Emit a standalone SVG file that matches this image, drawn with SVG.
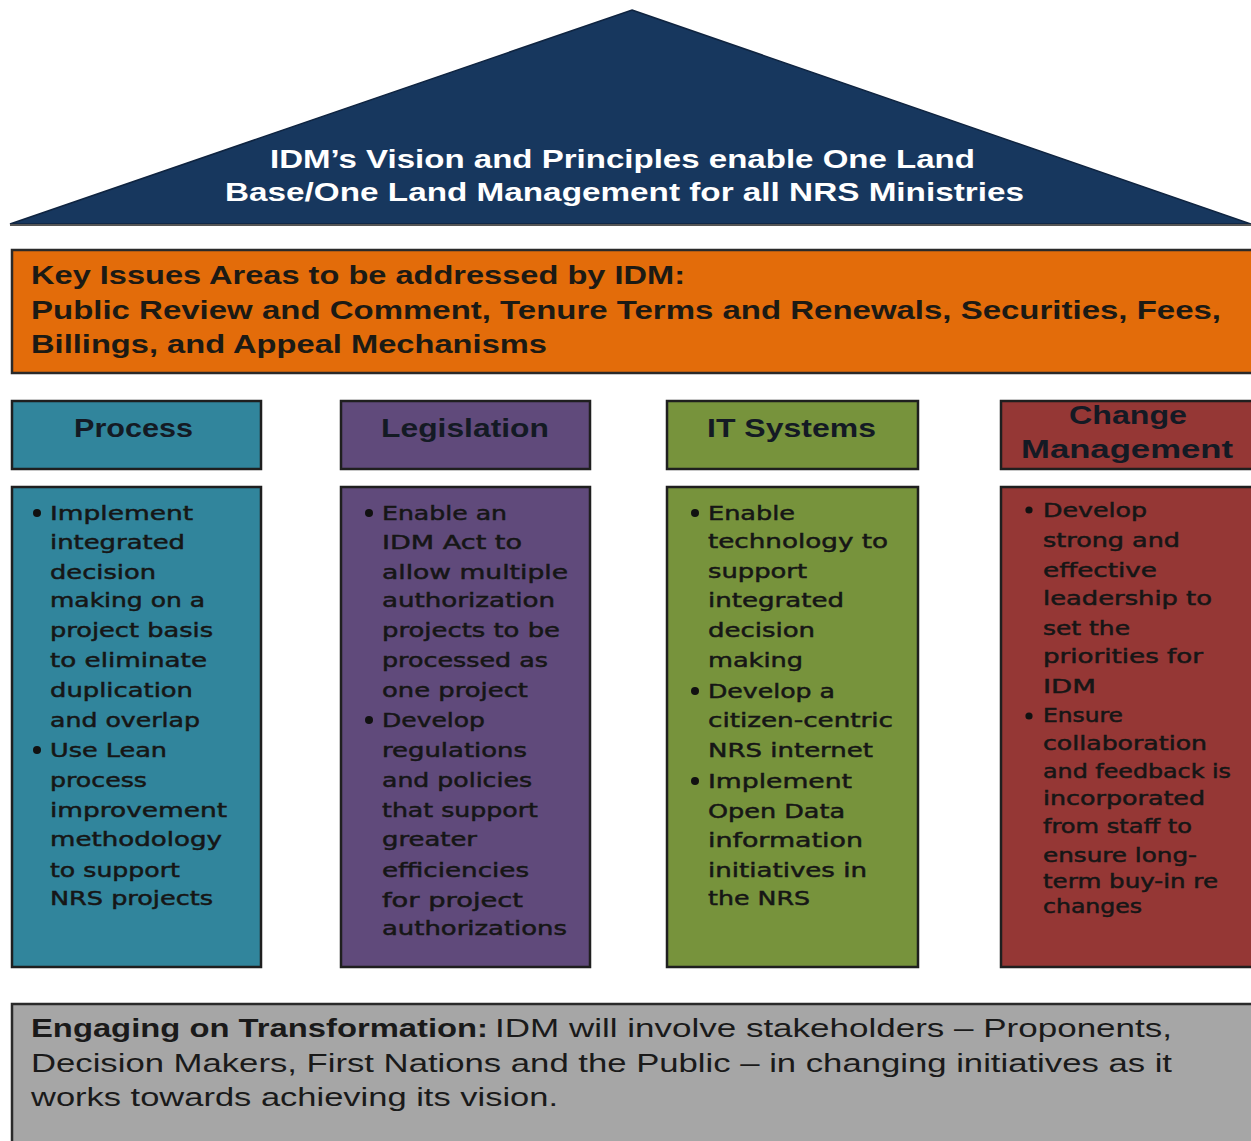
<svg xmlns="http://www.w3.org/2000/svg" width="1251" height="1141" viewBox="0 0 1251 1141">
<style>
.roof{fill:#17375E;stroke:#0f2440;stroke-width:1.5}
.bar{stroke:#2a2a2a;stroke-width:2.5}
.box{stroke:#1f1f1f;stroke-width:2.5}
.t1{font-family:"Liberation Sans",Arial,sans-serif;font-weight:bold;font-size:26px;fill:#ffffff}
.t2{font-family:"Liberation Sans",Arial,sans-serif;font-weight:bold;font-size:26px;fill:#1c1a14}
.hd{font-family:"Liberation Sans",Arial,sans-serif;font-weight:bold;font-size:26px;fill:#141a24}
.bd{font-family:"DejaVu Sans",Verdana,sans-serif;font-size:20px;fill:#161616;stroke:#161616;stroke-width:0.5}
.bd2{font-family:"DejaVu Sans",Verdana,sans-serif;font-size:19px;fill:#161616;stroke:#161616;stroke-width:0.5}
.gb{font-family:"Liberation Sans",Arial,sans-serif;font-weight:bold;font-size:26px;fill:#1a1a1a}
.gr{font-family:"Liberation Sans",Arial,sans-serif;font-size:26px;fill:#1a1a1a}
.dot{fill:#111111}
</style>
<g id="roof">
<polygon class="roof" points="632,10 1251,224 10,224"/>
<line x1="10" y1="225" x2="1251" y2="225" stroke="#555" stroke-width="2"/>
<text class="t1" x="270" y="168" textLength="705" lengthAdjust="spacingAndGlyphs">IDM’s Vision and Principles enable One Land</text>
<text class="t1" x="225" y="201" textLength="799" lengthAdjust="spacingAndGlyphs">Base/One Land Management for all NRS Ministries</text>
</g>
<g id="key-issues">
<rect class="bar" x="12" y="250" width="1245" height="123" fill="#E36C0A"/>
<text class="t2" x="31" y="284" textLength="654" lengthAdjust="spacingAndGlyphs">Key Issues Areas to be addressed by IDM:</text>
<text class="t2" x="31" y="319" textLength="1190" lengthAdjust="spacingAndGlyphs">Public Review and Comment, Tenure Terms and Renewals, Securities, Fees,</text>
<text class="t2" x="31" y="353" textLength="516" lengthAdjust="spacingAndGlyphs">Billings, and Appeal Mechanisms</text>
</g>
<g id="process-header">
<rect class="box" x="12" y="401" width="249" height="68" fill="#31859C"/>
<text class="hd" x="74" y="437" textLength="119" lengthAdjust="spacingAndGlyphs">Process</text>
</g>
<g id="legislation-header">
<rect class="box" x="341" y="401" width="249" height="68" fill="#604A7B"/>
<text class="hd" x="381" y="437" textLength="168" lengthAdjust="spacingAndGlyphs">Legislation</text>
</g>
<g id="it-header">
<rect class="box" x="667" y="401" width="251" height="68" fill="#77933C"/>
<text class="hd" x="707" y="437" textLength="169" lengthAdjust="spacingAndGlyphs">IT Systems</text>
</g>
<g id="change-header">
<rect class="box" x="1001" y="401" width="256" height="68" fill="#953735"/>
<text class="hd" x="1069" y="424" textLength="118" lengthAdjust="spacingAndGlyphs">Change</text>
<text class="hd" x="1021" y="458" textLength="212" lengthAdjust="spacingAndGlyphs">Management</text>
</g>
<g id="process-body">
<rect class="box" x="12" y="487" width="249" height="480" fill="#31859C"/>
<circle class="dot" cx="37" cy="513" r="4"/>
<circle class="dot" cx="37" cy="750" r="4"/>
<text class="bd" x="50" y="520" textLength="143" lengthAdjust="spacingAndGlyphs">Implement</text>
<text class="bd" x="50" y="549" textLength="135" lengthAdjust="spacingAndGlyphs">integrated</text>
<text class="bd" x="50" y="579" textLength="106" lengthAdjust="spacingAndGlyphs">decision</text>
<text class="bd" x="50" y="607" textLength="155" lengthAdjust="spacingAndGlyphs">making on a</text>
<text class="bd" x="50" y="637" textLength="163" lengthAdjust="spacingAndGlyphs">project basis</text>
<text class="bd" x="50" y="667" textLength="157" lengthAdjust="spacingAndGlyphs">to eliminate</text>
<text class="bd" x="50" y="697" textLength="143" lengthAdjust="spacingAndGlyphs">duplication</text>
<text class="bd" x="50" y="727" textLength="150" lengthAdjust="spacingAndGlyphs">and overlap</text>
<text class="bd" x="50" y="757" textLength="117" lengthAdjust="spacingAndGlyphs">Use Lean</text>
<text class="bd" x="50" y="787" textLength="97" lengthAdjust="spacingAndGlyphs">process</text>
<text class="bd" x="50" y="817" textLength="177" lengthAdjust="spacingAndGlyphs">improvement</text>
<text class="bd" x="50" y="846" textLength="172" lengthAdjust="spacingAndGlyphs">methodology</text>
<text class="bd" x="50" y="877" textLength="130" lengthAdjust="spacingAndGlyphs">to support</text>
<text class="bd" x="50" y="905" textLength="163" lengthAdjust="spacingAndGlyphs">NRS projects</text>
</g>
<g id="legislation-body">
<rect class="box" x="341" y="487" width="249" height="480" fill="#604A7B"/>
<circle class="dot" cx="369" cy="513" r="4"/>
<circle class="dot" cx="369" cy="720" r="4"/>
<text class="bd" x="382" y="520" textLength="125" lengthAdjust="spacingAndGlyphs">Enable an</text>
<text class="bd" x="382" y="549" textLength="140" lengthAdjust="spacingAndGlyphs">IDM Act to</text>
<text class="bd" x="382" y="579" textLength="186" lengthAdjust="spacingAndGlyphs">allow multiple</text>
<text class="bd" x="382" y="607" textLength="173" lengthAdjust="spacingAndGlyphs">authorization</text>
<text class="bd" x="382" y="637" textLength="178" lengthAdjust="spacingAndGlyphs">projects to be</text>
<text class="bd" x="382" y="667" textLength="166" lengthAdjust="spacingAndGlyphs">processed as</text>
<text class="bd" x="382" y="697" textLength="146" lengthAdjust="spacingAndGlyphs">one project</text>
<text class="bd" x="382" y="727" textLength="103" lengthAdjust="spacingAndGlyphs">Develop</text>
<text class="bd" x="382" y="757" textLength="145" lengthAdjust="spacingAndGlyphs">regulations</text>
<text class="bd" x="382" y="787" textLength="150" lengthAdjust="spacingAndGlyphs">and policies</text>
<text class="bd" x="382" y="817" textLength="156" lengthAdjust="spacingAndGlyphs">that support</text>
<text class="bd" x="382" y="846" textLength="95" lengthAdjust="spacingAndGlyphs">greater</text>
<text class="bd" x="382" y="877" textLength="147" lengthAdjust="spacingAndGlyphs">efficiencies</text>
<text class="bd" x="382" y="907" textLength="141" lengthAdjust="spacingAndGlyphs">for  project</text>
<text class="bd" x="382" y="935" textLength="185" lengthAdjust="spacingAndGlyphs">authorizations</text>
</g>
<g id="it-body">
<rect class="box" x="667" y="487" width="251" height="480" fill="#77933C"/>
<circle class="dot" cx="695" cy="513" r="4"/>
<circle class="dot" cx="695" cy="691" r="4"/>
<circle class="dot" cx="695" cy="781" r="4"/>
<text class="bd" x="708" y="520" textLength="87" lengthAdjust="spacingAndGlyphs">Enable</text>
<text class="bd" x="708" y="548" textLength="180" lengthAdjust="spacingAndGlyphs">technology to</text>
<text class="bd" x="708" y="578" textLength="99" lengthAdjust="spacingAndGlyphs">support</text>
<text class="bd" x="708" y="607" textLength="136" lengthAdjust="spacingAndGlyphs">integrated</text>
<text class="bd" x="708" y="637" textLength="107" lengthAdjust="spacingAndGlyphs">decision</text>
<text class="bd" x="708" y="667" textLength="95" lengthAdjust="spacingAndGlyphs">making</text>
<text class="bd" x="708" y="698" textLength="127" lengthAdjust="spacingAndGlyphs">Develop a</text>
<text class="bd" x="708" y="727" textLength="185" lengthAdjust="spacingAndGlyphs">citizen-centric</text>
<text class="bd" x="708" y="757" textLength="165" lengthAdjust="spacingAndGlyphs">NRS internet</text>
<text class="bd" x="708" y="788" textLength="144" lengthAdjust="spacingAndGlyphs">Implement</text>
<text class="bd" x="708" y="818" textLength="137" lengthAdjust="spacingAndGlyphs">Open Data</text>
<text class="bd" x="708" y="847" textLength="155" lengthAdjust="spacingAndGlyphs">information</text>
<text class="bd" x="708" y="877" textLength="159" lengthAdjust="spacingAndGlyphs">initiatives in</text>
<text class="bd" x="708" y="905" textLength="102" lengthAdjust="spacingAndGlyphs">the NRS</text>
</g>
<g id="change-body">
<rect class="box" x="1001" y="487" width="256" height="480" fill="#953735"/>
<circle class="dot" cx="1029" cy="510" r="3.6"/>
<circle class="dot" cx="1029" cy="716" r="3.6"/>
<text class="bd2" x="1043" y="517" textLength="104" lengthAdjust="spacingAndGlyphs">Develop</text>
<text class="bd2" x="1043" y="547" textLength="137" lengthAdjust="spacingAndGlyphs">strong and</text>
<text class="bd2" x="1043" y="577" textLength="114" lengthAdjust="spacingAndGlyphs">effective</text>
<text class="bd2" x="1043" y="605" textLength="169" lengthAdjust="spacingAndGlyphs">leadership to</text>
<text class="bd2" x="1043" y="635" textLength="87" lengthAdjust="spacingAndGlyphs">set the</text>
<text class="bd2" x="1043" y="663" textLength="160" lengthAdjust="spacingAndGlyphs">priorities for</text>
<text class="bd2" x="1043" y="693" textLength="53" lengthAdjust="spacingAndGlyphs">IDM</text>
<text class="bd2" x="1043" y="722" textLength="80" lengthAdjust="spacingAndGlyphs">Ensure</text>
<text class="bd2" x="1043" y="750" textLength="164" lengthAdjust="spacingAndGlyphs">collaboration</text>
<text class="bd2" x="1043" y="778" textLength="188" lengthAdjust="spacingAndGlyphs">and feedback is</text>
<text class="bd2" x="1043" y="805" textLength="162" lengthAdjust="spacingAndGlyphs">incorporated</text>
<text class="bd2" x="1043" y="833" textLength="149" lengthAdjust="spacingAndGlyphs">from staff to</text>
<text class="bd2" x="1043" y="862" textLength="154" lengthAdjust="spacingAndGlyphs">ensure long-</text>
<text class="bd2" x="1043" y="888" textLength="175" lengthAdjust="spacingAndGlyphs">term buy-in re</text>
<text class="bd2" x="1043" y="913" textLength="99" lengthAdjust="spacingAndGlyphs">changes</text>
</g>
<g id="engaging">
<rect class="bar" x="12" y="1004" width="1245" height="145" fill="#A6A6A6"/>
<text class="gb" x="31" y="1037" textLength="457" lengthAdjust="spacingAndGlyphs">Engaging on Transformation:</text>
<text class="gr" x="495" y="1037" textLength="677" lengthAdjust="spacingAndGlyphs">IDM will involve  stakeholders – Proponents,</text>
<text class="gr" x="31" y="1072" textLength="1141" lengthAdjust="spacingAndGlyphs">Decision Makers, First Nations and the Public – in changing initiatives as it</text>
<text class="gr" x="31" y="1106" textLength="527" lengthAdjust="spacingAndGlyphs">works towards achieving  its vision.</text>
</g>
<g id="connectors"/>
</svg>
